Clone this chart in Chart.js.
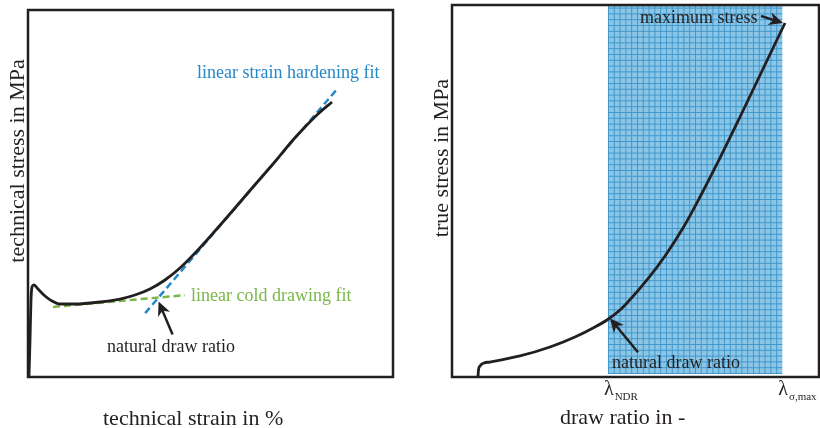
<!DOCTYPE html>
<html>
<head>
<meta charset="utf-8">
<script src="https://cdn.jsdelivr.net/npm/chart.js@4.4.1/dist/chart.umd.min.js"></script>
<style>
html, body { margin: 0; padding: 0; background: #fff; }
#wrap { position: relative; width: 820px; height: 428px; }
.panel { position: absolute; top: 0; width: 410px; height: 428px; }
</style>
</head>
<body>
<div id="wrap">
  <div class="panel" style="left:0"><canvas id="left" width="410" height="428"></canvas></div>
  <div class="panel" style="left:410px"><canvas id="right" width="410" height="428"></canvas></div>
</div>
<script>
// left panel - technical stress/strain (no ticks in the figure, arbitrary units)
const techStrain = [0.27, 0.55, 0.82, 1.10, 1.64, 2.74, 4.66, 6.58, 8.77, 12.88, 19.73, 25.21, 29.32, 33.42, 37.53, 41.64, 46.30, 51.23, 56.71, 61.64, 67.12, 72.60, 75.89, 79.45, 83.29];
const techStress = [0, 10.08, 20.98, 24.52, 25.07, 23.98, 22.07, 20.71, 19.89, 19.89, 20.44, 21.25, 22.34, 23.98, 26.43, 29.70, 34.33, 39.78, 46.05, 51.77, 58.04, 64.58, 68.12, 71.66, 74.93];
const coldFitStrain = [6.85, 43.0];
const coldFitStress = [19.1, 22.3];
const hardFitStrain = [32.1, 84.9];
const hardFitStress = [17.4, 78.7];

// right panel - true stress vs draw ratio
const drawRatio = [7.08, 7.22, 7.63, 8.72, 10.35, 18.53, 26.70, 33.51, 38.96, 42.23, 45.78, 47.68, 53.13, 58.04, 62.94, 67.57, 72.48, 78.47, 84.47, 90.74];
const trueStress = [0, 1.88, 2.96, 3.76, 4.03, 5.65, 8.06, 10.75, 13.44, 15.32, 18.01, 19.89, 26.08, 32.53, 40.05, 48.39, 57.80, 69.89, 82.26, 95.16];
const lambdaNDR = 42.5;
const lambdaMax = 90;
const xTickValues = [lambdaNDR, lambdaMax];
const xTickLabels = [['λ', 'NDR'], ['λ', 'σ,max']];

const INK = '#231f20';
const GREEN = '#7ab648';
const BLUE = '#2488c8';
const SERIF = '"Liberation Serif", "DejaVu Serif", serif';

const pts = (xs, ys) => xs.map((x, i) => ({ x: x, y: ys[i] }));

function arrow(ctx, x0, y0, x1, y1) {
    // tail (x0,y0) -> tip (x1,y1)
    const ang = Math.atan2(y1 - y0, x1 - x0);
    ctx.save();
    ctx.strokeStyle = INK;
    ctx.fillStyle = INK;
    ctx.lineWidth = 2.5;
    ctx.beginPath();
    ctx.moveTo(x0, y0);
    ctx.lineTo(x1 - Math.cos(ang) * 8, y1 - Math.sin(ang) * 8);
    ctx.stroke();
    ctx.translate(x1, y1);
    ctx.rotate(ang);
    ctx.beginPath();
    ctx.moveTo(0, 0);
    ctx.lineTo(-14, -6.5);
    ctx.lineTo(-10, 0);
    ctx.lineTo(-14, 6.5);
    ctx.closePath();
    ctx.fill();
    ctx.restore();
}

function text(ctx, str, x, y, size, color, rot) {
    ctx.save();
    ctx.font = size + 'px ' + SERIF;
    ctx.fillStyle = color;
    ctx.translate(x, y);
    if (rot) {
        ctx.rotate(rot);
        ctx.textAlign = 'center';
        ctx.textBaseline = 'middle';
    }
    ctx.fillText(str, 0, 0);
    ctx.restore();
}

const frame = {
    id: 'frame',
    afterDatasetsDraw(chart) {
        const { ctx, chartArea: a } = chart;
        ctx.save();
        ctx.strokeStyle = INK;
        ctx.lineWidth = 2.5;
        ctx.strokeRect(a.left, a.top, a.right - a.left, a.bottom - a.top);
        ctx.restore();
    }
};

function baseOptions(padding) {
    return {
        responsive: false,
        animation: false,
        layout: { padding: padding },
        plugins: { legend: { display: false }, tooltip: { enabled: false } },
        elements: { point: { radius: 0 } },
        scales: {
            x: { type: 'linear', min: 0, max: 100, display: false },
            y: { type: 'linear', min: 0, max: 100, display: false }
        }
    };
}

// ---------- left chart ----------
const leftNotes = {
    id: 'leftNotes',
    afterDraw(chart) {
        const ctx = chart.ctx, xs = chart.scales.x, ys = chart.scales.y;
        text(ctx, 'technical stress in MPa', 18, 161, 22, INK, -Math.PI / 2);
        text(ctx, 'technical strain in %', 103, 425, 22, INK);
        text(ctx, 'linear strain hardening fit', 197, 78, 18, BLUE);
        text(ctx, 'linear cold drawing fit', 191, 301, 18, GREEN);
        text(ctx, 'natural draw ratio', 107, 352, 18, INK);
        // intersection of the two fits
        const m1 = (coldFitStress[1] - coldFitStress[0]) / (coldFitStrain[1] - coldFitStrain[0]);
        const m2 = (hardFitStress[1] - hardFitStress[0]) / (hardFitStrain[1] - hardFitStrain[0]);
        const xi = (hardFitStress[0] - m2 * hardFitStrain[0] - coldFitStress[0] + m1 * coldFitStrain[0]) / (m1 - m2);
        const yi = coldFitStress[0] + m1 * (xi - coldFitStrain[0]);
        const px = xs.getPixelForValue(xi), py = ys.getPixelForValue(yi);
        arrow(ctx, px + 14, py + 37, px, py + 4);
    }
};

new Chart(document.getElementById('left'), {
    type: 'line',
    data: {
        datasets: [
            { data: pts(techStrain, techStress), borderColor: INK, borderWidth: 2.8, cubicInterpolationMode: 'monotone', fill: false },
            { data: pts(coldFitStrain, coldFitStress), borderColor: GREEN, borderWidth: 2.5, borderDash: [7, 4], fill: false },
            { data: pts(hardFitStrain, hardFitStress), borderColor: BLUE, borderWidth: 2.5, borderDash: [7, 4], fill: false }
        ]
    },
    options: baseOptions({ left: 28, right: 17, top: 10, bottom: 51 }),
    plugins: [frame, leftNotes]
});

// ---------- right chart ----------
const band = {
    id: 'band',
    beforeDatasetsDraw(chart) {
        const { ctx, chartArea: a } = chart, xs = chart.scales.x;
        const x0 = xs.getPixelForValue(lambdaNDR), x1 = xs.getPixelForValue(lambdaMax);
        const top = a.top, bot = a.bottom - 3;
        ctx.save();
        ctx.fillStyle = '#8cc6e6';
        ctx.fillRect(x0, top, x1 - x0, bot - top);
        ctx.strokeStyle = '#3a93c9';
        ctx.lineWidth = 0.9;
        ctx.beginPath();
        for (let x = x0 + 0.5; x <= x1; x += 5.8) { ctx.moveTo(x, top); ctx.lineTo(x, bot); }
        for (let y = bot - 0.5; y >= top; y -= 5.8) { ctx.moveTo(x0, y); ctx.lineTo(x1, y); }
        ctx.stroke();
        ctx.restore();
    }
};

const rightNotes = {
    id: 'rightNotes',
    afterDraw(chart) {
        const ctx = chart.ctx, xs = chart.scales.x, ys = chart.scales.y;
        text(ctx, 'true stress in MPa', 32, 158, 22, INK, -Math.PI / 2);
        text(ctx, 'draw ratio in -', 150, 424, 22, INK);
        text(ctx, 'maximum stress', 230, 23, 18, INK);
        text(ctx, 'natural draw ratio', 202, 368, 18, INK);
        // x tick labels
        xTickValues.forEach((v, i) => {
            const px = xs.getPixelForValue(v) - 4;
            ctx.save();
            ctx.fillStyle = INK;
            ctx.font = '20px ' + SERIF;
            ctx.fillText(xTickLabels[i][0], px, 395);
            const w = ctx.measureText(xTickLabels[i][0]).width;
            ctx.font = '11px ' + SERIF;
            ctx.fillText(xTickLabels[i][1], px + w + 1, 400);
            ctx.restore();
        });
        // arrow to natural draw ratio (curve at lambdaNDR)
        let k = drawRatio.findIndex(d => d >= lambdaNDR);
        const t = (lambdaNDR - drawRatio[k - 1]) / (drawRatio[k] - drawRatio[k - 1]);
        const sN = trueStress[k - 1] + t * (trueStress[k] - trueStress[k - 1]);
        const nx = xs.getPixelForValue(lambdaNDR) + 2, ny = ys.getPixelForValue(sN) - 1;
        arrow(ctx, nx + 28, ny + 34, nx, ny);
        // arrow to maximum stress
        const last = drawRatio.length - 1;
        const mx = xs.getPixelForValue(drawRatio[last]) - 2, my = ys.getPixelForValue(trueStress[last]);
        arrow(ctx, mx - 22, my - 7, mx, my);
    }
};

new Chart(document.getElementById('right'), {
    type: 'line',
    data: {
        datasets: [
            { data: pts(drawRatio, trueStress), borderColor: INK, borderWidth: 2.8, cubicInterpolationMode: 'monotone', fill: false }
        ]
    },
    options: baseOptions({ left: 42, right: 1, top: 5, bottom: 51 }),
    plugins: [band, frame, rightNotes]
});
</script>
</body>
</html>
